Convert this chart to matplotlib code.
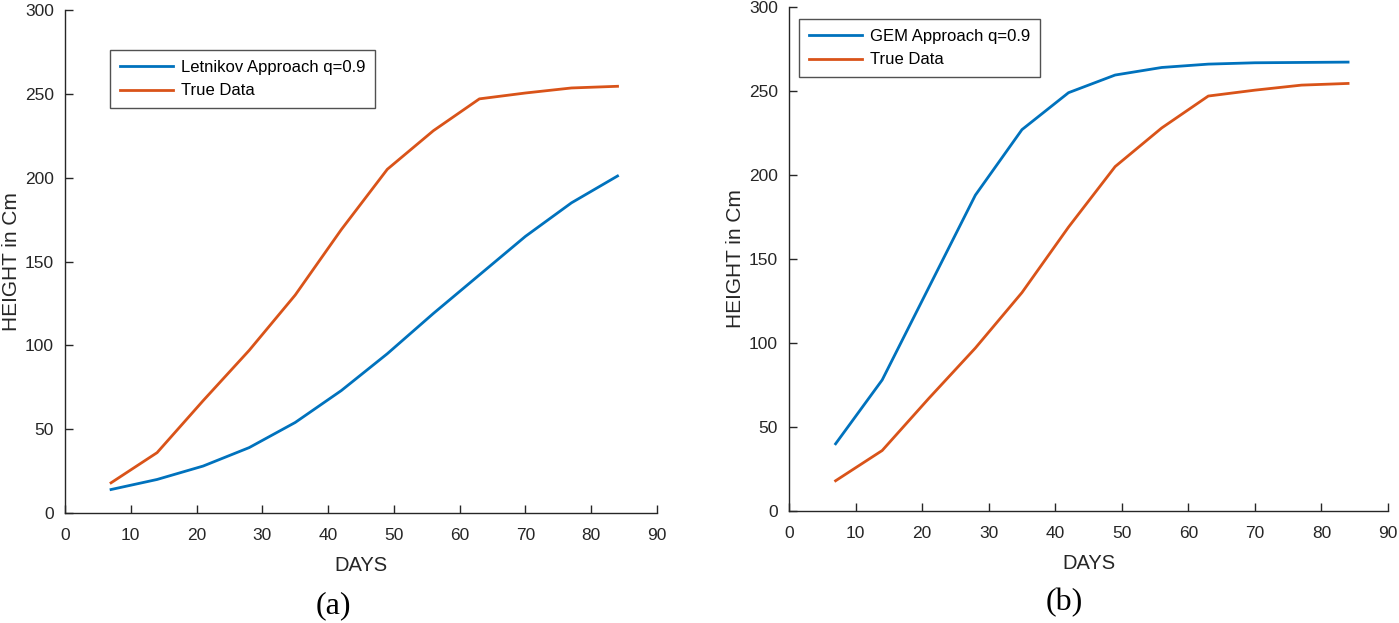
import matplotlib
matplotlib.use("Agg")
import matplotlib.pyplot as plt

days = [7, 14, 21, 28, 35, 42, 49, 56, 63, 70, 77, 84]
true_data = [18, 36, 67, 97, 130, 169, 205, 228, 247, 250.5, 253.5, 254.5]
letnikov = [14, 20, 28, 39, 54, 73, 95, 119, 142, 165, 185, 201]
gem = [40, 78, 133, 188, 227, 249, 259.5, 264, 266, 266.8, 267, 267.2]

xticks = [0, 10, 20, 30, 40, 50, 60, 70, 80, 90]
yticks = [0, 50, 100, 150, 200, 250, 300]

BLUE = "#0072BD"
ORANGE = "#D95319"

plt.rcParams["font.family"] = ["Liberation Sans", "DejaVu Sans"]

fig = plt.figure(figsize=(13.99, 6.23), dpi=100)
axA = fig.add_axes([65/1399, 1-513/623, (657-65)/1399, (513-10)/623])
axB = fig.add_axes([789/1399, 1-511/623, (1388-789)/1399, (511-7)/623])

def style(ax):
    ax.set_xlim(0, 90)
    ax.set_ylim(0, 300)
    ax.set_xticks(xticks)
    ax.set_yticks(yticks)
    for s in ["top", "right"]:
        ax.spines[s].set_visible(False)
    for s in ["left", "bottom"]:
        ax.spines[s].set_color("#262626")
        ax.spines[s].set_linewidth(1.0)
    ax.tick_params(direction="in", length=6, width=1.0, colors="#262626",
                   labelsize=12.5, labelcolor="#262626")
    ax.tick_params(axis="x", pad=11)
    ax.tick_params(axis="y", pad=8)
    ax.set_xlabel("DAYS", fontsize=14.5, color="#262626", labelpad=9)
    ax.set_ylabel("HEIGHT in Cm", fontsize=15, color="#262626", labelpad=3)

leg_kw = dict(fontsize=12, frameon=True, fancybox=False, edgecolor="#262626",
              handlelength=3.2, handletextpad=0.45, borderpad=0.6,
              labelspacing=0.5, borderaxespad=0)

axA.plot(days, letnikov, color=BLUE, lw=2, label="Letnikov Approach q=0.9")
axA.plot(days, true_data, color=ORANGE, lw=2, label="True Data")
style(axA)
legA = axA.legend(loc="upper left", bbox_to_anchor=((110-65)/592, (513-50)/503), **leg_kw)
legA.get_frame().set_linewidth(1.0)

axB.plot(days, gem, color=BLUE, lw=2, label="GEM Approach q=0.9")
axB.plot(days, true_data, color=ORANGE, lw=2, label="True Data")
style(axB)
legB = axB.legend(loc="upper left", bbox_to_anchor=((799-789)/599, (511-19)/504), **leg_kw)
legB.get_frame().set_linewidth(1.0)

fig.text(333/1399, 1-606/623, "(a)", fontsize=23, family="Liberation Serif",
         ha="center", va="center")
fig.text(1064/1399, 1-603/623, "(b)", fontsize=23, family="Liberation Serif",
         ha="center", va="center")

fig.savefig("out.png", dpi=100)
